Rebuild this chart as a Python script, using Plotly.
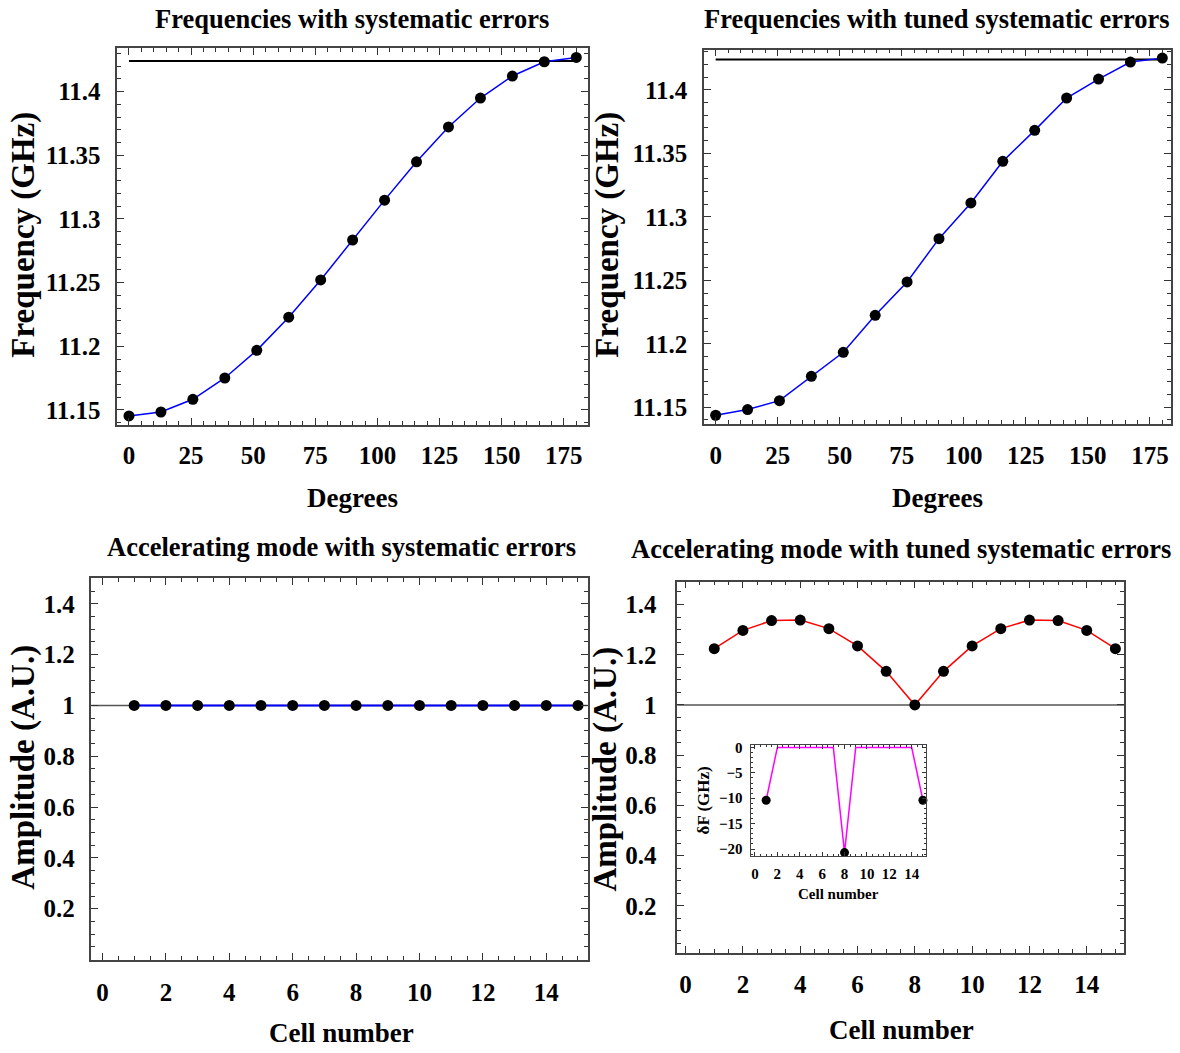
import plotly.graph_objects as go

# ---------------- data ----------------
degrees = [0, 12.86, 25.71, 38.57, 51.43, 64.29, 77.14, 90, 102.86, 115.71, 128.57, 141.43, 154.29, 167.14, 180]
freq_systematic = [11.1453, 11.1484, 11.1584, 11.1751, 11.1968, 11.2229, 11.2521, 11.2835,
                   11.3148, 11.3449, 11.3723, 11.3950, 11.4123, 11.4235, 11.4269]
freq_tuned = [11.1437, 11.1482, 11.1552, 11.1744, 11.1933, 11.2224, 11.2487, 11.2828,
              11.3109, 11.3437, 11.3681, 11.3936, 11.4085, 11.4219, 11.4250]
target_freq = 11.424

cells = [1, 2, 3, 4, 5, 6, 7, 8, 9, 10, 11, 12, 13, 14, 15]
amp_systematic = [1, 1, 1, 1, 1, 1, 1, 1, 1, 1, 1, 1, 1, 1, 1]
amp_tuned = [1.224, 1.297, 1.336, 1.338, 1.304, 1.235, 1.134, 1.0,
             1.134, 1.235, 1.304, 1.338, 1.336, 1.297, 1.224]
ref_amplitude = 1.0
delta_f = [-10.4, 0, 0, 0, 0, 0, 0, -20.7, 0, 0, 0, 0, 0, 0, -10.4]

freq_ticks = [11.15, 11.2, 11.25, 11.3, 11.35, 11.4]
freq_ticktext = ["11.15", "11.2", "11.25", "11.3", "11.35", "11.4"]
amp_ticks = [0.2, 0.4, 0.6, 0.8, 1, 1.2, 1.4]
amp_ticktext = ["0.2", "0.4", "0.6", "0.8", "1", "1.2", "1.4"]

titles = ["Frequencies with systematic errors", "Frequencies with tuned systematic errors",
          "Accelerating mode with systematic errors", "Accelerating mode with tuned systematic errors"]

# ---------------- layout helpers ----------------
W, H = 1180, 1053
FONT = "Liberation Serif"


def px_x(a, b):
    return [a / W, b / W]


def px_y(top, bottom):
    return [1 - bottom / H, 1 - top / H]


def axis_common(font_size=25, standoff=10, lw=1.5, major=7):
    return dict(
        showline=True, mirror="allticks", linecolor="#444", linewidth=lw,
        ticks="inside", ticklen=major, tickwidth=1.2, tickcolor="#333",
        showgrid=False, zeroline=False,
        tickfont=dict(family=FONT, size=font_size, color="black", weight="bold"),
        ticklabelstandoff=standoff,
    )


fig = go.Figure()

# Top-left
fig.add_trace(go.Scatter(x=[degrees[0], degrees[-1]], y=[target_freq, target_freq], mode="lines",
                         line=dict(color="black", width=2), xaxis="x", yaxis="y", showlegend=False))
fig.add_trace(go.Scatter(x=degrees, y=freq_systematic, mode="lines+markers",
                         line=dict(color="blue", width=1.5), marker=dict(color="black", size=11),
                         xaxis="x", yaxis="y", showlegend=False, cliponaxis=False))
# Top-right
fig.add_trace(go.Scatter(x=[degrees[0], degrees[-1]], y=[target_freq, target_freq], mode="lines",
                         line=dict(color="black", width=2), xaxis="x2", yaxis="y2", showlegend=False))
fig.add_trace(go.Scatter(x=degrees, y=freq_tuned, mode="lines+markers",
                         line=dict(color="blue", width=1.5), marker=dict(color="black", size=11),
                         xaxis="x2", yaxis="y2", showlegend=False, cliponaxis=False))
# Bottom-left
fig.add_trace(go.Scatter(x=cells, y=amp_systematic, mode="lines+markers",
                         line=dict(color="blue", width=2), marker=dict(color="black", size=11),
                         xaxis="x3", yaxis="y3", showlegend=False))
# Bottom-right
fig.add_trace(go.Scatter(x=cells, y=amp_tuned, mode="lines+markers",
                         line=dict(color="red", width=1.5), marker=dict(color="black", size=11),
                         xaxis="x4", yaxis="y4", showlegend=False))
# Inset
fig.add_trace(go.Scatter(x=cells, y=delta_f, mode="lines",
                         line=dict(color="magenta", width=1.5), xaxis="x5", yaxis="y5", showlegend=False))
nz = [(c, d) for c, d in zip(cells, delta_f) if d != 0]
fig.add_trace(go.Scatter(x=[c for c, _ in nz], y=[d for _, d in nz], mode="markers",
                         marker=dict(color="black", size=9), xaxis="x5", yaxis="y5",
                         showlegend=False, cliponaxis=False))

# reference lines at amplitude 1
shapes = []
for xr, yr in (("x3", "y3"), ("x4", "y4")):
    shapes.append(dict(type="line", xref=f"{xr} domain", yref=yr, x0=0, x1=1,
                       y0=ref_amplitude, y1=ref_amplitude, line=dict(color="#555", width=1.5),
                       layer="below"))

layout = dict(
    width=W, height=H, margin=dict(l=0, r=0, t=0, b=0),
    paper_bgcolor="white", plot_bgcolor="white", showlegend=False, shapes=shapes,
)

# top-left
layout["xaxis"] = dict(axis_common(standoff=8), domain=px_x(117.3, 587.7), range=[-4.7, 184.6],
                       anchor="y", tickvals=[0, 25, 50, 75, 100, 125, 150, 175],
                       minor=dict(ticks="inside", ticklen=4, dtick=5, tick0=0, tickcolor="#333"))
layout["yaxis"] = dict(axis_common(standoff=10), domain=px_y(43, 422), range=[11.1385, 11.4345],
                       anchor="x", tickvals=freq_ticks, ticktext=freq_ticktext,
                       minor=dict(ticks="inside", ticklen=4, dtick=0.01, tick0=11.15, tickcolor="#333"))
# top-right
layout["xaxis2"] = dict(axis_common(standoff=8), domain=px_x(704, 1171), range=[-4.7, 183.5],
                        anchor="y2", tickvals=[0, 25, 50, 75, 100, 125, 150, 175],
                        minor=dict(ticks="inside", ticklen=4, dtick=5, tick0=0, tickcolor="#333"))
layout["yaxis2"] = dict(axis_common(standoff=10), domain=px_y(45, 421.3), range=[11.1369, 11.4316],
                        anchor="x2", tickvals=freq_ticks, ticktext=freq_ticktext,
                        minor=dict(ticks="inside", ticklen=4, dtick=0.01, tick0=11.15, tickcolor="#333"))
# bottom-left
layout["xaxis3"] = dict(axis_common(standoff=10), domain=px_x(91.4, 587.5), range=[-0.35, 15.3],
                        anchor="y3", tickvals=[0, 2, 4, 6, 8, 10, 12, 14],
                        minor=dict(ticks="inside", ticklen=4, dtick=0.5, tick0=0, tickcolor="#333"))
layout["yaxis3"] = dict(axis_common(standoff=10), domain=px_y(576.7, 960), range=[0, 1.5],
                        anchor="x3", tickvals=amp_ticks, ticktext=amp_ticktext,
                        minor=dict(ticks="inside", ticklen=4, dtick=0.05, tick0=0, tickcolor="#333"))
# bottom-right
layout["xaxis4"] = dict(axis_common(standoff=9), domain=px_x(677.3, 1124), range=[-0.29, 15.3],
                        anchor="y4", tickvals=[0, 2, 4, 6, 8, 10, 12, 14],
                        minor=dict(ticks="inside", ticklen=4, dtick=0.5, tick0=0, tickcolor="#333"))
layout["yaxis4"] = dict(axis_common(standoff=14), domain=px_y(580, 953), range=[0.014, 1.491],
                        anchor="x4", tickvals=amp_ticks, ticktext=amp_ticktext,
                        minor=dict(ticks="inside", ticklen=4, dtick=0.05, tick0=0, tickcolor="#333"))
# inset
layout["xaxis5"] = dict(axis_common(font_size=15, standoff=4, lw=1.2, major=4), domain=px_x(750.7, 925.7),
                        range=[-0.38, 15.25], anchor="y5", tickvals=[0, 2, 4, 6, 8, 10, 12, 14],
                        minor=dict(ticks="inside", ticklen=2, dtick=0.5, tick0=0, tickcolor="#333"))
layout["yaxis5"] = dict(axis_common(font_size=15, standoff=4, lw=1.2, major=4), domain=px_y(744, 856),
                        range=[-21.4, 0.53], anchor="x5", tickvals=[0, -5, -10, -15, -20],
                        minor=dict(ticks="inside", ticklen=2, dtick=1, tick0=0, tickcolor="#333"))

# text annotations (titles and axis titles)
ann = []


def text(s, x, y, size, angle=0):
    ann.append(dict(text=s, x=x / W, y=1 - y / H, xref="paper", yref="paper", showarrow=False,
                    xanchor="center", yanchor="middle", textangle=angle,
                    font=dict(family=FONT, size=size, color="black", weight="bold")))


text(titles[0], 352, 14, 26.5)
text(titles[1], 937, 14, 26.5)
text(titles[2], 341, 545, 26.5)
text(titles[3], 901, 547, 26.5)
text("Degrees", 352, 496, 27)
text("Degrees", 937, 496, 27)
text("Cell number", 341, 1034, 27)
text("Cell number", 901, 1031, 27)
text("Frequency (GHz)", 24, 231, 33, -90)
text("Frequency (GHz)", 608, 231, 33, -90)
text("Amplitude (A.U.)", 24, 767, 33, -90)
text("Amplitude (A.U.)", 606, 769, 33, -90)
text("δF (GHz)", 703, 800, 17, -90)
text("Cell number", 838, 894, 15)
layout["annotations"] = ann

fig.update_layout(**layout)
fig.write_html("out.html")
